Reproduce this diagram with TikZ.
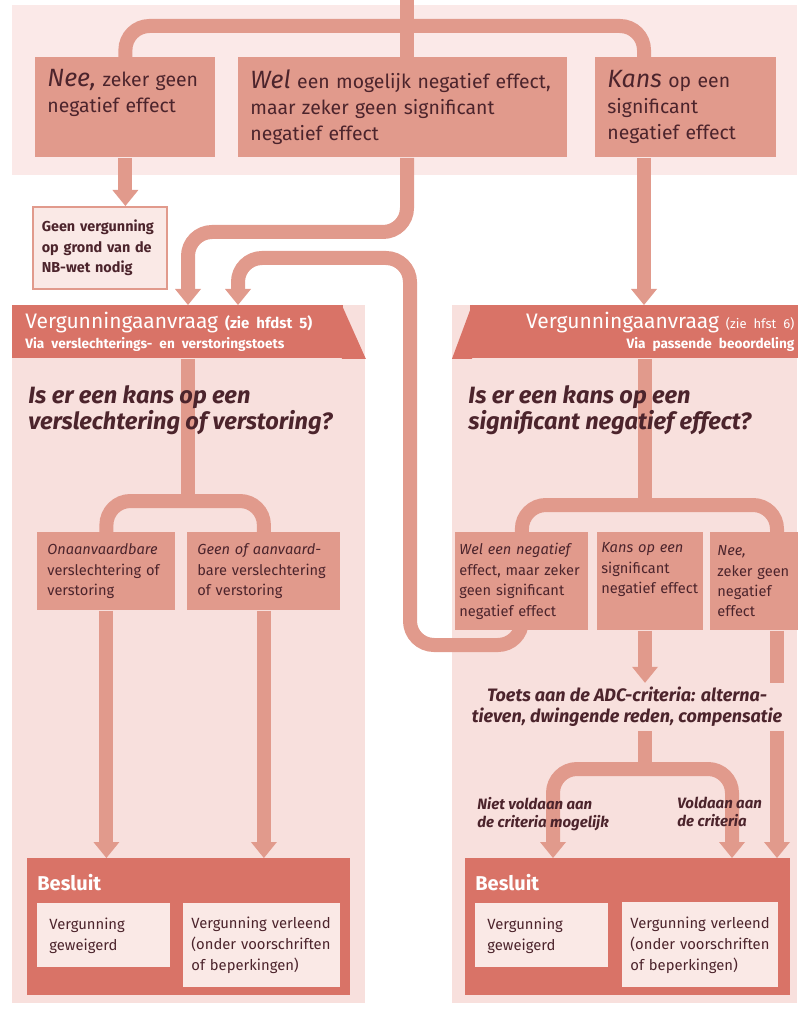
\documentclass[tikz,border=0pt]{standalone}
\usepackage{fontspec}
\setmainfont{Fira Sans}
\usetikzlibrary{arrows.meta}

\definecolor{bandcol}{RGB}{251,233,232}
\definecolor{panelcol}{RGB}{248,224,221}
\definecolor{boxcol}{RGB}{225,154,140}
\definecolor{headcol}{RGB}{217,115,103}
\definecolor{palecol}{RGB}{250,233,230}
\definecolor{inkcol}{RGB}{76,36,44}

\pgfdeclarelayer{back}
\pgfdeclarelayer{pipes}
\pgfsetlayers{back,pipes,main}

\newcommand{\leadword}[1]{{\fontsize{12.5}{13}\selectfont\itshape #1}}

\tikzset{
	pipe/.style={draw=boxcol, line width=7pt, rounded corners=12pt},
	arr/.style={-{Triangle[width=13pt,length=8pt,line width=0pt]}},
	arrs/.style={{Triangle[width=13pt,length=8pt,line width=0pt]}-{Triangle[width=13pt,length=8pt,line width=0pt]}},
	topbox/.style={fill=boxcol, text=inkcol, anchor=north west, align=left, minimum height=50pt, inner xsep=6pt, inner ysep=2pt, font=\fontsize{9.7}{13}\selectfont},
	notebox/.style={draw=boxcol, line width=0.8pt, fill=palecol, text=inkcol, anchor=north west, align=left, minimum width=67pt, minimum height=41pt, text width=58pt, inner xsep=4.5pt, font=\bfseries\fontsize{7.2}{10.3}\selectfont},
	headbox/.style={fill=headcol, text=white, anchor=north west, minimum height=26.5pt, inner xsep=6.5pt, inner ysep=1pt, font=\fontsize{10.5}{10}\selectfont},
	question/.style={text=inkcol, anchor=north west, align=left, inner sep=0pt, font=\bfseries\itshape\fontsize{11.8}{13}\selectfont},
	midbox/.style={fill=boxcol, text=inkcol, anchor=north west, align=left, inner ysep=2pt, font=\fontsize{7.3}{10.2}\selectfont},
	adcnote/.style={fill=panelcol, text=inkcol, align=center, inner sep=2pt, font=\bfseries\itshape\fontsize{9}{10.5}\selectfont},
	cond/.style={text=inkcol, anchor=north west, align=left, inner sep=0pt, font=\bfseries\itshape\fontsize{7.5}{9}\selectfont},
	besbox/.style={fill=headcol, anchor=north west, minimum width=161.5pt, minimum height=68.5pt},
	bestitle/.style={text=white, anchor=west, inner sep=0pt, font=\bfseries\fontsize{10}{12}\selectfont},
	outbox/.style={fill=palecol, text=inkcol, anchor=north west, align=left, inner xsep=4pt, inner ysep=2pt, font=\fontsize{7.4}{10.5}\selectfont},
}

\begin{document}
\begin{tikzpicture}[x=0.5pt,y=-0.5pt]
		\useasboundingbox (0,0) rectangle (797,1010);
		\begin{pgfonlayer}{back}
		\fill[bandcol] (12,5) rectangle (797,175);
		\fill[panelcol] (12,305) rectangle (365,1003);
		\fill[panelcol] (452,305) rectangle (797,1003);
		\end{pgfonlayer}
		
		\coordinate (entry) at (407,0);
		\coordinate (bar) at (407,26);
		\coordinate (kin) at (644,0);
		\coordinate (wbend) at (300,232);
		\coordinate (loopb) at (410,645);
		\coordinate (loopt) at (410,258);
		\coordinate (lin2) at (238,0);
		\coordinate (lsplit) at (188,501);
		\coordinate (rsplit) at (645,505);
		\coordinate (rdown) at (777,0);
		\coordinate (asplit) at (645,769);
		\coordinate (bl) at (553,0);
		\coordinate (br) at (732,0);
		
		\node[topbox, minimum width=90pt, text width=78pt] at (35,57) (nee) {\leadword{Nee,} zeker geen\\negatief effect\\\strut};
		\node[topbox, minimum width=164.5pt, text width=152.5pt] at (238,57) (wel) {\leadword{Wel} een mogelijk negatief effect,\\maar zeker geen significant\\negatief effect};
		\node[topbox, minimum width=90.5pt, text width=78.5pt] at (595,57) (kans) {\leadword{Kans} op een\\significant\\negatief effect};
		\node[notebox] at (32,206) (geen) {Geen vergunning\\op grond van de\\NB-wet nodig};
		
		\node[headbox, minimum width=165.5pt, text width=152.5pt, align=left] at (12,305) (lhead) {Vergunningaanvraag {\bfseries\fontsize{7.5}{9}\selectfont(zie hfdst 5)}\\{\bfseries\fontsize{6.8}{8}\selectfont Via verslechterings- en verstoringstoets}};
		\fill[headcol] ([xshift=-1pt]lhead.north east) -- ([xshift=-1pt]lhead.south east) -- ++(24,0) -- cycle;
		\node[headbox, minimum width=167pt, text width=157pt, inner xsep=5pt, align=right] at (470,305) (rhead) {Vergunningaanvraag {\fontsize{6.5}{8}\selectfont(zie hfst 6)}\\{\bfseries\fontsize{6.8}{8}\selectfont Via passende beoordeling}};
		\fill[headcol] ([xshift=1pt]rhead.north west) -- ([xshift=1pt]rhead.south west) -- ++(-20,0) -- cycle;
		
		\node[question] at (28,385) (lq) {Is er een kans op een\\verslechtering of verstoring?};
		\node[question] at (468,385) (rq) {Is er een kans op een\\significant negatief effect?};
		
		\node[midbox, minimum width=69pt, minimum height=39pt, text width=59pt, inner xsep=5pt] at (37,532) (lon) {\textit{Onaanvaardbare}\\verslechtering of\\verstoring};
		\node[midbox, minimum width=76.5pt, minimum height=39pt, text width=66.5pt, inner xsep=5pt] at (187,532) (lgeen) {\textit{Geen of aanvaard-}\\bare verslechtering\\of verstoring};
		\node[midbox, minimum width=66.5pt, minimum height=49pt, text width=62.5pt, inner xsep=2pt] at (455,532) (rwel) {\textit{Wel een negatief}\\effect, maar zeker\\geen significant\\negatief effect};
		\node[midbox, minimum width=53pt, minimum height=49pt, text width=49pt, inner xsep=2pt] at (597,532) (rkans) {\textit{Kans op een}\\significant\\negatief effect\\\strut};
		\node[midbox, minimum width=65pt, minimum height=49pt, text width=58pt, inner xsep=3.5pt] at (710,532) (rnee) {\textit{Nee,}\\zeker geen\\negatief\\effect};
		
		\node[adcnote] at (627,707) (adc) {Toets aan de ADC-criteria: alterna-\\tieven, dwingende reden, compensatie};
		\node[cond] at (477,797) (cnot) {Niet voldaan aan\\de criteria mogelijk};
		\node[cond] at (677,797) (cyes) {Voldaan aan\\de criteria};
		
		\node[besbox] at (27,858) (lbes) {};
		\node[bestitle] at (37,883) (lbtitle) {Besluit};
		\node[outbox, minimum width=66.5pt, minimum height=32pt, text width=54.5pt, inner xsep=6pt] at (37,903) (lgew) {Vergunning\\geweigerd};
		\node[outbox, minimum width=78.5pt, minimum height=42pt, text width=70.5pt] at (183,903) (lver) {Vergunning verleend\\(onder voorschriften\\of beperkingen)};
		\node[besbox, minimum width=162.5pt] at (465,858) (rbes) {};
		\node[bestitle] at (475,883) (rbtitle) {Besluit};
		\node[outbox, minimum width=66.5pt, minimum height=32pt, text width=54.5pt, inner xsep=6pt] at (475,903) (rgew) {Vergunning\\geweigerd};
		\node[outbox, minimum width=78pt, minimum height=42.5pt, text width=70pt] at (622,902) (rver) {Vergunning verleend\\(onder voorschriften\\of beperkingen)};
		
		\begin{pgfonlayer}{pipes}
		\draw[pipe] (entry) -- (wel.north -| entry);
		\draw[pipe] (nee.north) |- (bar) -| (kans.north -| kin);
		\draw[pipe,arr] (nee.south) -- (geen.north -| nee.south);
		\draw[pipe,arr] (wel.south -| entry) |- (wbend) -| (lhead.north -| lsplit);
		\draw[pipe,arr] (rwel.center) |- (loopb) -- (loopt) -| (lhead.north -| lin2);
		\draw[pipe,arr] (kans.south -| kin) -- (rhead.north -| kin);
		
		\draw[pipe] (lhead.south -| lsplit) -- (lsplit);
		\draw[pipe] (lon.north) |- (lsplit) -| (lgeen.north);
		\draw[pipe,arr] (lon.south) -- (lbes.north -| lon.south);
		\draw[pipe,arr] (lgeen.south) -- (lbes.north -| lgeen.south);
		
		\draw[pipe] (rhead.south -| rsplit) -- (rsplit);
		\draw[pipe] (rwel.north) |- (rsplit) -| (rnee.north -| rdown);
		\draw[pipe,arr] (rkans.south -| rsplit) -- (adc.north -| rsplit);
		\draw[pipe] (adc.south -| rsplit) -- (asplit);
		\draw[pipe,arrs] (rbes.north -| bl) |- (asplit) -| (rbes.north -| br);
		\draw[pipe,arr] (rnee.south -| rdown) -- (rbes.north -| rdown);
		\end{pgfonlayer}
\end{tikzpicture}
\end{document}
